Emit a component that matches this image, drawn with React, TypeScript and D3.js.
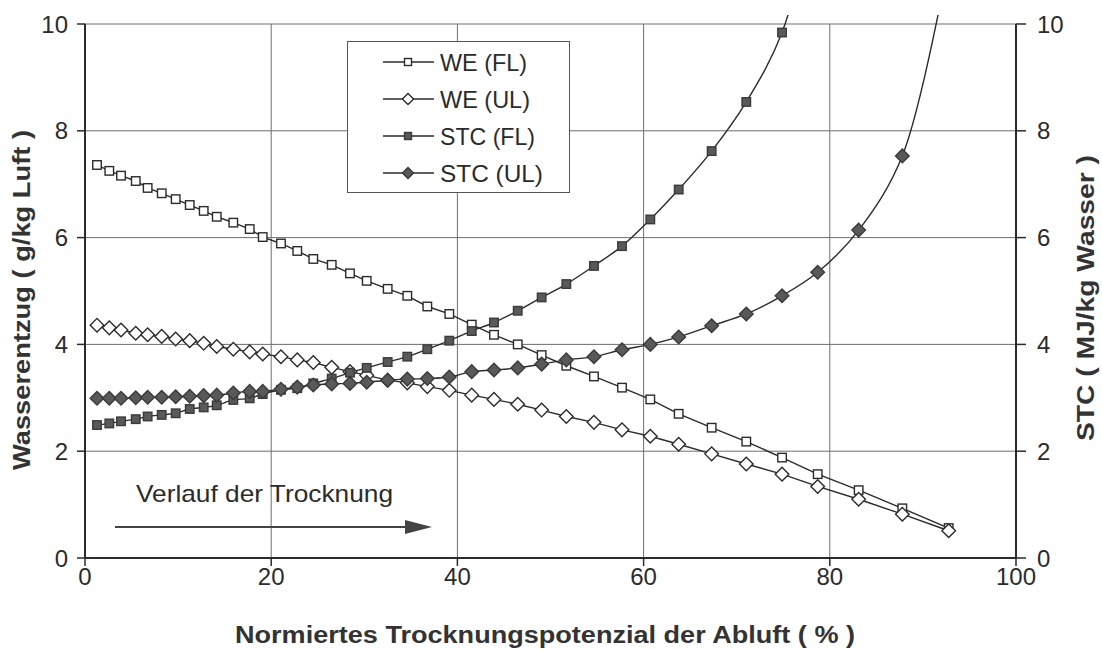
import React from "react";
import * as d3 from "d3";

const WIDTH = 1102;
const HEIGHT = 650;

// x positions (normiertes Trocknungspotenzial, %)
const xPct = [
  1.29, 2.61, 3.87, 5.45, 6.73, 8.24, 9.74, 11.25, 12.75, 14.15, 15.93, 17.69,
  19.09, 21.05, 22.8, 24.52, 26.5, 28.46, 30.26, 32.51, 34.62, 36.77, 39.13,
  41.54, 43.93, 46.48, 49.05, 51.7, 54.67, 57.68, 60.72, 63.77, 67.31, 71.03,
  74.87, 78.7, 83.1, 87.79, 92.77,
];

// Wasserentzug (g/kg Luft)
const weFL = [
  7.36, 7.25, 7.16, 7.06, 6.93, 6.83, 6.72, 6.61, 6.5, 6.39, 6.28, 6.16, 6.01,
  5.89, 5.75, 5.6, 5.49, 5.33, 5.19, 5.04, 4.91, 4.71, 4.57, 4.37, 4.18, 4.0,
  3.8, 3.6, 3.4, 3.19, 2.97, 2.7, 2.44, 2.18, 1.88, 1.57, 1.27, 0.93, 0.56,
];
const weUL = [
  4.36, 4.31, 4.27, 4.21, 4.18, 4.15, 4.1, 4.07, 4.02, 3.96, 3.91, 3.86, 3.82,
  3.77, 3.71, 3.66, 3.57, 3.49, 3.42, 3.33, 3.28, 3.21, 3.14, 3.05, 2.97, 2.88,
  2.77, 2.65, 2.54, 2.4, 2.28, 2.13, 1.95, 1.76, 1.57, 1.34, 1.1, 0.82, 0.51,
];

// STC (MJ/kg Wasser) - last value runs off the top of the chart
const stcFL = [
  2.49, 2.52, 2.56, 2.6, 2.65, 2.68, 2.71, 2.79, 2.82, 2.86, 2.96, 2.99, 3.07,
  3.15, 3.18, 3.27, 3.36, 3.47, 3.56, 3.67, 3.77, 3.91, 4.07, 4.25, 4.41, 4.63,
  4.88, 5.13, 5.47, 5.84, 6.34, 6.9, 7.62, 8.54, 9.84, 12.4,
];
const stcUL = [
  2.99, 2.99, 2.99, 3.0, 3.01, 3.01, 3.02, 3.03, 3.04, 3.05, 3.09, 3.12, 3.12,
  3.16, 3.2, 3.24, 3.26, 3.27, 3.29, 3.33, 3.35, 3.36, 3.39, 3.49, 3.52, 3.56,
  3.63, 3.71, 3.77, 3.9, 4.0, 4.14, 4.35, 4.57, 4.91, 5.35, 6.14, 7.53, 11.2,
];

const xTicks = [0, 20, 40, 60, 80, 100];
const yTicks = [0, 2, 4, 6, 8, 10];

const series = [
  { name: "WE (FL)", values: weFL, marker: "square", filled: false, smooth: false },
  { name: "WE (UL)", values: weUL, marker: "diamond", filled: false, smooth: false },
  { name: "STC (FL)", values: stcFL, marker: "square", filled: true, smooth: true },
  { name: "STC (UL)", values: stcUL, marker: "diamond", filled: true, smooth: true },
];
const legendWidths = [87, 90, 95, 103];

const INK = "#2b2b2b";
const GRID = "#6e6e6e";
const FILL = "#595959";
const FONT = "'Liberation Sans', Arial, sans-serif";

const x = d3.scaleLinear().domain([0, 100]).range([85, 1016]);
const y = d3.scaleLinear().domain([0, 10]).range([558, 24]);

function Marker({ type, filled, cx, cy, size }) {
  const fill = filled ? FILL : "#fff";
  const stroke = filled ? "#3a3a3a" : INK;
  if (type === "square") {
    const s = size;
    return (
      <rect x={cx - s / 2} y={cy - s / 2} width={s} height={s} fill={fill} stroke={stroke} strokeWidth={1.4} />
    );
  }
  const r = size * 0.8;
  return (
    <path
      d={`M${cx},${cy - r}L${cx + r},${cy}L${cx},${cy + r}L${cx - r},${cy}Z`}
      fill={fill}
      stroke={stroke}
      strokeWidth={1.4}
    />
  );
}

export default function App() {
  const [x0, x1] = x.range();
  const [yb, yt] = y.range();

  const lineLinear = d3.line().x((d) => x(d[0])).y((d) => y(d[1]));
  const lineSmooth = d3
    .line()
    .x((d) => x(d[0]))
    .y((d) => y(d[1]))
    .curve(d3.curveCatmullRom.alpha(0.5));

  return (
    <svg
      width={WIDTH}
      height={HEIGHT}
      style={{ position: "absolute", left: 0, top: 0, background: "#fff" }}
      fontFamily={FONT}
    >
      <defs>
        <clipPath id="plot">
          <rect x={x0} y={yt - 9} width={x1 - x0} height={yb - yt + 9} />
        </clipPath>
      </defs>

      {/* grid */}
      {yTicks.filter((t) => t > 0).map((t) => (
        <line key={`gy${t}`} x1={x0} x2={x1} y1={y(t)} y2={y(t)} stroke={GRID} strokeWidth={1} />
      ))}
      {xTicks.filter((t) => t > 0 && t < 100).map((t) => (
        <line key={`gx${t}`} x1={x(t)} x2={x(t)} y1={yt} y2={yb} stroke={GRID} strokeWidth={1} />
      ))}

      {/* axes */}
      <line x1={x0} x2={x0} y1={yt} y2={yb} stroke={INK} strokeWidth={2} />
      <line x1={x1} x2={x1} y1={yt} y2={yb} stroke={INK} strokeWidth={2} />
      <line x1={x0} x2={x1} y1={yb} y2={yb} stroke={INK} strokeWidth={2} />
      {yTicks.map((t) => (
        <g key={`ty${t}`}>
          <line x1={x0 - 8} x2={x0} y1={y(t)} y2={y(t)} stroke={INK} strokeWidth={1.5} />
          <line x1={x1} x2={x1 + 10} y1={y(t)} y2={y(t)} stroke={INK} strokeWidth={1.5} />
          <text x={68} y={y(t) + 8.5} fontSize={24} textAnchor="end" fill={INK}>
            {t}
          </text>
          <text x={1037} y={y(t) + 8.5} fontSize={24} textAnchor="start" fill={INK}>
            {t}
          </text>
        </g>
      ))}
      {xTicks.map((t) => (
        <g key={`tx${t}`}>
          <line x1={x(t)} x2={x(t)} y1={yb} y2={yb + 8} stroke={INK} strokeWidth={1.5} />
          <text x={x(t)} y={585} fontSize={24} textAnchor="middle" fill={INK}>
            {t}
          </text>
        </g>
      ))}

      {/* axis titles */}
      <text x={545} y={643} fontSize={23} fontWeight="bold" textAnchor="middle" fill="#333"
        textLength={620} lengthAdjust="spacingAndGlyphs">
        Normiertes Trocknungspotenzial der Abluft ( % )
      </text>
      <text transform="translate(30,300) rotate(-90)" fontSize={23} fontWeight="bold" textAnchor="middle"
        fill="#333" textLength={340} lengthAdjust="spacingAndGlyphs">
        Wasserentzug ( g/kg Luft )
      </text>
      <text transform="translate(1094,298) rotate(-90)" fontSize={23} fontWeight="bold" textAnchor="middle"
        fill="#333" textLength={286} lengthAdjust="spacingAndGlyphs">
        STC ( MJ/kg Wasser )
      </text>

      {/* annotation */}
      <text x={136} y={502} fontSize={24} fill={INK} textLength={257} lengthAdjust="spacingAndGlyphs">
        Verlauf der Trocknung
      </text>
      <line x1={115} x2={410} y1={527} y2={527} stroke="#444" strokeWidth={2} />
      <path d="M405,520L432,527L405,534Z" fill="#444" />

      {/* series */}
      <g clipPath="url(#plot)">
        {series.map((s) => {
          const pts = s.values.map((v, i) => [xPct[i], v]);
          return (
            <path key={s.name} d={(s.smooth ? lineSmooth : lineLinear)(pts)} fill="none" stroke={INK} strokeWidth={1.4} />
          );
        })}
      </g>
      {series.map((s) => (
        <g key={`m${s.name}`}>
          {s.values.map((v, i) =>
            v <= 10 ? (
              <Marker key={i} type={s.marker} filled={s.filled} cx={x(xPct[i])} cy={y(v)} size={8.5} />
            ) : null
          )}
        </g>
      ))}

      {/* legend */}
      <g>
        <rect x={347.5} y={41.5} width={222} height={151} fill="#fff" stroke="#555" strokeWidth={1} />
        {series.map((s, i) => {
          const cy = 62 + i * 37;
          return (
            <g key={`l${s.name}`}>
              <line x1={383} x2={434} y1={cy} y2={cy} stroke={INK} strokeWidth={1.4} />
              <Marker type={s.marker} filled={s.filled} cx={408} cy={cy} size={7} />
              <text x={440} y={cy + 8.5} fontSize={24} fill={INK}
                textLength={legendWidths[i]} lengthAdjust="spacingAndGlyphs">
                {s.name}
              </text>
            </g>
          );
        })}
      </g>
    </svg>
  );
}
